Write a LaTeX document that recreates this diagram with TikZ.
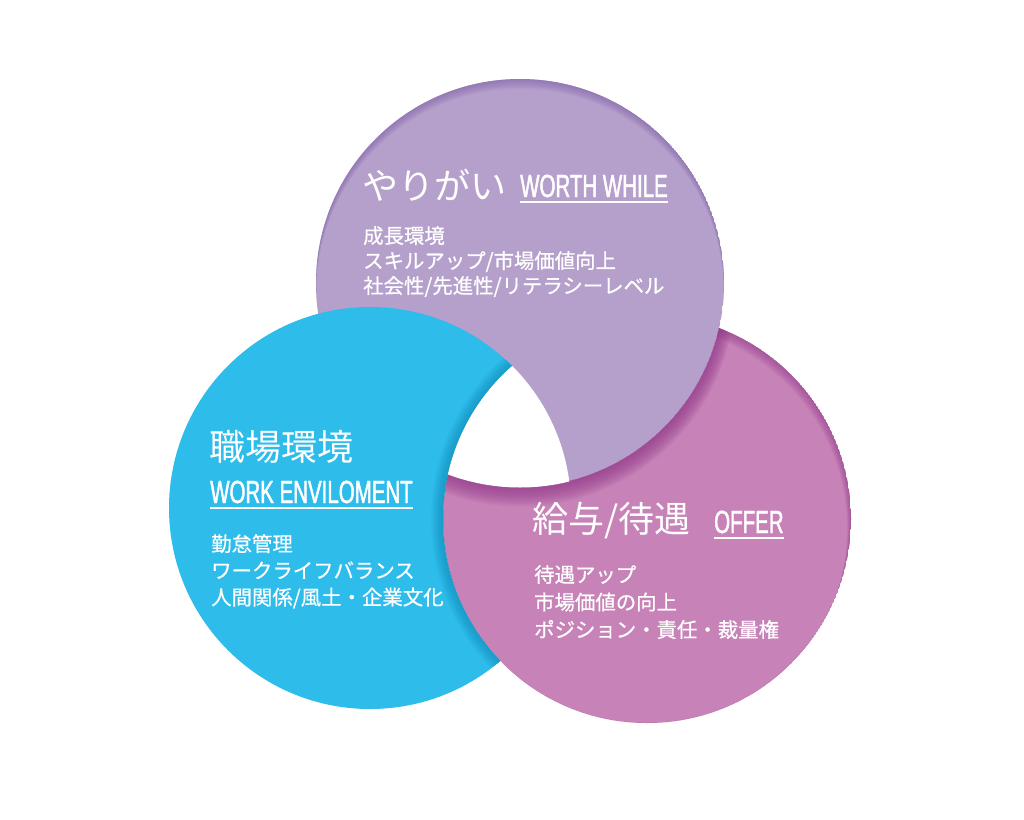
\documentclass[tikz,border=0pt]{standalone}
\usepackage{fontspec}
\setmainfont{Noto Sans CJK JP}
\newfontfamily\itemfont[FakeBold=0.6]{Noto Sans CJK JP}
\newfontfamily\latinfont[FakeStretch=0.64, FakeBold=1.4]{Liberation Sans}
\usetikzlibrary{calc}

\definecolor{lilac}{HTML}{B5A0CC}
\definecolor{lilacdark}{HTML}{7E5FA8}
\definecolor{skyblue}{HTML}{2EBCEB}
\definecolor{skybluedark}{HTML}{0E86B3}
\definecolor{orchid}{HTML}{C783B7}
\definecolor{orchiddark}{HTML}{93388C}

\tikzset{
  title/.style={text=white, inner sep=0pt, anchor=base west, font=\fontsize{36}{40}\selectfont},
  tag/.style={text=white, inner sep=0pt, anchor=base west, font=\latinfont\fontsize{32}{36}\selectfont},
  items/.style={text=white, inner sep=0pt, anchor=north west, align=left},
  uline/.style={white, line width=1.6pt},
}

\begin{document}
\begin{tikzpicture}[x=1pt, y=-1pt]
    \useasboundingbox (0,0) rectangle (1024,819);
    % Circle centres
    \coordinate (P) at (520,283);
    \coordinate (B) at (370,508);
    \coordinate (R) at (647,519);
    % Draw the purple circle with its dark top rim
    \begin{scope}
      \clip (P) circle[radius=204pt];
      \fill[lilac] (P) circle[radius=204pt];
      \foreach \k in {1,...,10}
        \fill[lilacdark, opacity=0.07, even odd rule] (P) circle[radius=204pt] ($(P)+(0,\k)$) circle[radius=204pt];
    \end{scope}
    % Draw the pink circle under the purple one
    \begin{scope}[even odd rule]
      \clip (0,0) rectangle (1024,819) (P) circle[radius=204pt];
      \clip (R) circle[radius=204pt];
      \fill[orchid] (R) circle[radius=204pt];
      \foreach \k in {1,...,10}
        \fill[orchiddark, opacity=0.07] (R) circle[radius=204pt] ($(R)+(-0.4*\k,\k)$) circle[radius=204pt];
      % shadow of the purple circle
      \foreach \k in {1,...,14}
        \fill[orchiddark, opacity=0.08] ($(P)+(0,0.6*\k)$) circle[radius={204pt+0.8pt*\k}];
    \end{scope}
    % Draw the blue circle under the pink one
    \begin{scope}[even odd rule]
      \clip (0,0) rectangle (1024,819) (R) circle[radius=204pt];
      \clip (B) circle[radius=201pt];
      \fill[skyblue] (B) circle[radius=201pt];
      % shadow of the pink circle
      \foreach \k in {1,...,12}
        \fill[skybluedark, opacity=0.06] (R) circle[radius={204pt+1pt*\k}];
    \end{scope}
    % Cut out the middle
    \begin{scope}
      \clip (B) circle[radius=201pt];
      \clip (R) circle[radius=204pt];
      \fill[white] (P) circle[radius=204.5pt];
    \end{scope}
    % Texts of the purple circle
    \node[title] (yarigai) at (362,199) {やりがい};
    \node[tag] (worth) at (520,197) {WORTH WHILE};
    \draw[uline] ($(worth.base west)+(0,5)$) -- ($(worth.base east)+(0,5)$);
    \node[items, font=\itemfont\fontsize{20.4}{25}\selectfont] (growth) at (363,226) {成長環境\\スキルアップ/市場価値向上\\社会性/先進性/リテラシーレベル};
    % Texts of the blue circle
    \node[title] (shokuba) at (209,460) {職場環境};
    \node[tag] (work) at (210,503) {WORK ENVILOMENT};
    \draw[uline] ($(work.base west)+(0,5)$) -- ($(work.base east)+(0,5)$);
    \node[items, font=\itemfont\fontsize{20.4}{26.7}\selectfont] (office) at (211,534) {勤怠管理\\ワークライフバランス\\人間関係/風土・企業文化};
    % Texts of the pink circle
    \node[title] (kyuyo) at (532,532) {給与/待遇};
    \node[tag] (offer) at (714,533) {OFFER};
    \draw[uline] ($(offer.base west)+(0,5)$) -- ($(offer.base east)+(0,5)$);
    \node[items, font=\itemfont\fontsize{20.4}{27.5}\selectfont] (pay) at (534,565) {待遇アップ\\市場価値の向上\\ポジション・責任・裁量権};
\end{tikzpicture}
\end{document}
